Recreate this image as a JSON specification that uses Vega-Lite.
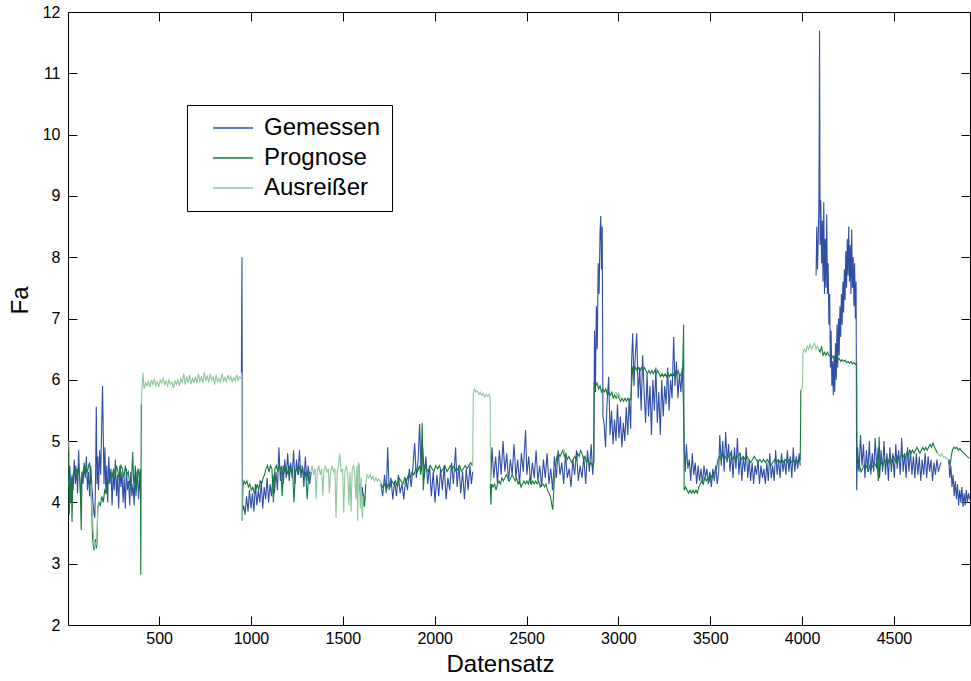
{
  "$schema": "https://vega.github.io/schema/vega-lite/v6.json",
  "width": 902,
  "height": 613,
  "autosize": {"type": "none"},
  "padding": {"left": 68, "top": 12, "right": 1, "bottom": 56},
  "background": "white",
  "datasets": {
    "gemessen": [
      {"n":8,"fa":4.25,"seg":1},{"n":14,"fa":4.6,"seg":1},{"n":20,"fa":4.1,"seg":1},{"n":26,"fa":4.45,"seg":1},{"n":32,"fa":4.2,"seg":1},{"n":38,"fa":4.7,"seg":1},{"n":44,"fa":4.3,"seg":1},{"n":50,"fa":4.55,"seg":1},{"n":56,"fa":4.15,"seg":1},{"n":62,"fa":4.85,"seg":1},{"n":68,"fa":4.35,"seg":1},{"n":74,"fa":4.05,"seg":1},{"n":80,"fa":4.5,"seg":1},{"n":86,"fa":4.3,"seg":1},{"n":92,"fa":4.65,"seg":1},{"n":98,"fa":4.4,"seg":1},{"n":104,"fa":4.75,"seg":1},{"n":110,"fa":4.2,"seg":1},{"n":116,"fa":4.5,"seg":1},{"n":122,"fa":4.1,"seg":1},{"n":128,"fa":4.6,"seg":1},{"n":134,"fa":4.25,"seg":1},{"n":140,"fa":4.0,"seg":1},{"n":146,"fa":3.8,"seg":1},{"n":150,"fa":3.75,"seg":1},{"n":154,"fa":4.4,"seg":1},{"n":158,"fa":5.56,"seg":1},{"n":162,"fa":4.3,"seg":1},{"n":166,"fa":4.75,"seg":1},{"n":170,"fa":4.2,"seg":1},{"n":176,"fa":4.85,"seg":1},{"n":182,"fa":4.45,"seg":1},{"n":188,"fa":5.35,"seg":1},{"n":192,"fa":5.9,"seg":1},{"n":196,"fa":5.1,"seg":1},{"n":200,"fa":4.3,"seg":1},{"n":205,"fa":4.9,"seg":1},{"n":210,"fa":4.15,"seg":1},{"n":215,"fa":4.6,"seg":1},{"n":220,"fa":4.0,"seg":1},{"n":226,"fa":4.75,"seg":1},{"n":232,"fa":4.3,"seg":1},{"n":238,"fa":4.55,"seg":1},{"n":244,"fa":3.95,"seg":1},{"n":250,"fa":4.5,"seg":1},{"n":256,"fa":4.2,"seg":1},{"n":262,"fa":4.7,"seg":1},{"n":268,"fa":4.1,"seg":1},{"n":274,"fa":4.45,"seg":1},{"n":280,"fa":3.9,"seg":1},{"n":286,"fa":4.6,"seg":1},{"n":292,"fa":4.25,"seg":1},{"n":298,"fa":4.5,"seg":1},{"n":304,"fa":4.0,"seg":1},{"n":310,"fa":4.4,"seg":1},{"n":316,"fa":3.9,"seg":1},{"n":322,"fa":4.55,"seg":1},{"n":328,"fa":4.2,"seg":1},{"n":334,"fa":4.35,"seg":1},{"n":340,"fa":3.95,"seg":1},{"n":346,"fa":4.5,"seg":1},{"n":352,"fa":4.1,"seg":1},{"n":358,"fa":4.3,"seg":1},{"n":364,"fa":3.95,"seg":1},{"n":370,"fa":4.6,"seg":1},{"n":376,"fa":4.2,"seg":1},{"n":382,"fa":4.5,"seg":1},{"n":388,"fa":4.05,"seg":1},{"n":394,"fa":4.4,"seg":1},{"n":400,"fa":4.1,"seg":1},
      {"n":948,"fa":6.1,"seg":2},{"n":951,"fa":8.0,"seg":2},{"n":954,"fa":3.85,"seg":2},{"n":960,"fa":3.95,"seg":2},{"n":968,"fa":3.8,"seg":2},{"n":976,"fa":4.1,"seg":2},{"n":984,"fa":3.85,"seg":2},{"n":992,"fa":4.2,"seg":2},{"n":1000,"fa":3.9,"seg":2},{"n":1008,"fa":4.15,"seg":2},{"n":1016,"fa":3.85,"seg":2},{"n":1024,"fa":4.3,"seg":2},{"n":1032,"fa":3.95,"seg":2},{"n":1040,"fa":4.2,"seg":2},{"n":1048,"fa":4.0,"seg":2},{"n":1056,"fa":4.35,"seg":2},{"n":1064,"fa":3.9,"seg":2},{"n":1072,"fa":4.25,"seg":2},{"n":1080,"fa":4.05,"seg":2},{"n":1088,"fa":4.4,"seg":2},{"n":1096,"fa":4.0,"seg":2},{"n":1104,"fa":4.3,"seg":2},{"n":1112,"fa":4.1,"seg":2},{"n":1120,"fa":4.45,"seg":2},{"n":1128,"fa":4.15,"seg":2},{"n":1136,"fa":4.5,"seg":2},{"n":1144,"fa":4.2,"seg":2},{"n":1152,"fa":4.9,"seg":2},{"n":1160,"fa":4.35,"seg":2},{"n":1168,"fa":4.6,"seg":2},{"n":1176,"fa":4.3,"seg":2},{"n":1184,"fa":4.7,"seg":2},{"n":1192,"fa":4.4,"seg":2},{"n":1200,"fa":4.8,"seg":2},{"n":1208,"fa":4.35,"seg":2},{"n":1216,"fa":4.65,"seg":2},{"n":1224,"fa":4.4,"seg":2},{"n":1232,"fa":4.85,"seg":2},{"n":1240,"fa":4.3,"seg":2},{"n":1248,"fa":4.7,"seg":2},{"n":1256,"fa":4.45,"seg":2},{"n":1264,"fa":4.85,"seg":2},{"n":1272,"fa":4.4,"seg":2},{"n":1280,"fa":4.6,"seg":2},{"n":1288,"fa":4.25,"seg":2},{"n":1296,"fa":4.75,"seg":2},{"n":1304,"fa":4.35,"seg":2},{"n":1312,"fa":4.6,"seg":2},{"n":1320,"fa":4.3,"seg":2},{"n":1328,"fa":4.5,"seg":2},
      {"n":1590,"fa":4.3,"seg":3},{"n":1598,"fa":4.05,"seg":3},{"n":1606,"fa":4.25,"seg":3},{"n":1614,"fa":3.95,"seg":3},{"n":1622,"fa":4.1,"seg":3},
      {"n":1707,"fa":4.3,"seg":4},{"n":1717,"fa":4.1,"seg":4},{"n":1727,"fa":4.45,"seg":4},{"n":1737,"fa":4.15,"seg":4},{"n":1744,"fa":4.9,"seg":4},{"n":1752,"fa":4.2,"seg":4},{"n":1762,"fa":4.4,"seg":4},{"n":1772,"fa":4.05,"seg":4},{"n":1782,"fa":4.35,"seg":4},{"n":1792,"fa":4.1,"seg":4},{"n":1802,"fa":4.45,"seg":4},{"n":1812,"fa":4.15,"seg":4},{"n":1822,"fa":4.3,"seg":4},{"n":1832,"fa":4.05,"seg":4},{"n":1842,"fa":4.4,"seg":4},{"n":1852,"fa":4.2,"seg":4},{"n":1862,"fa":4.55,"seg":4},{"n":1872,"fa":4.25,"seg":4},{"n":1882,"fa":4.6,"seg":4},{"n":1891,"fa":4.97,"seg":4},{"n":1900,"fa":4.4,"seg":4},{"n":1910,"fa":4.7,"seg":4},{"n":1918,"fa":5.28,"seg":4},{"n":1926,"fa":4.5,"seg":4},{"n":1935,"fa":4.9,"seg":4},{"n":1944,"fa":4.4,"seg":4},{"n":1952,"fa":4.75,"seg":4},{"n":1962,"fa":4.3,"seg":4},{"n":1972,"fa":4.6,"seg":4},{"n":1982,"fa":4.1,"seg":4},{"n":1992,"fa":4.5,"seg":4},{"n":2002,"fa":4.0,"seg":4},{"n":2012,"fa":4.45,"seg":4},{"n":2022,"fa":4.1,"seg":4},{"n":2032,"fa":4.55,"seg":4},{"n":2042,"fa":4.2,"seg":4},{"n":2052,"fa":4.6,"seg":4},{"n":2062,"fa":4.05,"seg":4},{"n":2072,"fa":4.4,"seg":4},{"n":2082,"fa":4.2,"seg":4},{"n":2092,"fa":4.65,"seg":4},{"n":2102,"fa":4.3,"seg":4},{"n":2114,"fa":4.9,"seg":4},{"n":2122,"fa":4.25,"seg":4},{"n":2132,"fa":4.6,"seg":4},{"n":2142,"fa":4.15,"seg":4},{"n":2152,"fa":4.5,"seg":4},{"n":2162,"fa":4.05,"seg":4},{"n":2172,"fa":4.55,"seg":4},{"n":2182,"fa":4.2,"seg":4},{"n":2192,"fa":4.6,"seg":4},{"n":2200,"fa":4.3,"seg":4},{"n":2207,"fa":4.5,"seg":4},
      {"n":2305,"fa":4.35,"seg":5},{"n":2312,"fa":4.9,"seg":5},{"n":2322,"fa":4.4,"seg":5},{"n":2332,"fa":4.75,"seg":5},{"n":2342,"fa":4.3,"seg":5},{"n":2352,"fa":4.85,"seg":5},{"n":2362,"fa":4.45,"seg":5},{"n":2372,"fa":5.0,"seg":5},{"n":2382,"fa":4.5,"seg":5},{"n":2392,"fa":4.8,"seg":5},{"n":2402,"fa":4.35,"seg":5},{"n":2412,"fa":4.7,"seg":5},{"n":2422,"fa":4.45,"seg":5},{"n":2432,"fa":4.95,"seg":5},{"n":2442,"fa":4.4,"seg":5},{"n":2452,"fa":4.7,"seg":5},{"n":2462,"fa":4.3,"seg":5},{"n":2472,"fa":4.8,"seg":5},{"n":2482,"fa":4.5,"seg":5},{"n":2495,"fa":5.18,"seg":5},{"n":2502,"fa":4.45,"seg":5},{"n":2512,"fa":4.75,"seg":5},{"n":2522,"fa":4.3,"seg":5},{"n":2532,"fa":4.65,"seg":5},{"n":2542,"fa":4.4,"seg":5},{"n":2552,"fa":4.85,"seg":5},{"n":2562,"fa":4.35,"seg":5},{"n":2572,"fa":4.6,"seg":5},{"n":2582,"fa":4.25,"seg":5},{"n":2592,"fa":4.7,"seg":5},{"n":2602,"fa":4.4,"seg":5},{"n":2612,"fa":4.8,"seg":5},{"n":2622,"fa":4.3,"seg":5},{"n":2632,"fa":4.55,"seg":5},{"n":2642,"fa":4.2,"seg":5},{"n":2652,"fa":4.75,"seg":5},{"n":2662,"fa":4.4,"seg":5},{"n":2672,"fa":4.85,"seg":5},{"n":2682,"fa":4.45,"seg":5},{"n":2692,"fa":4.65,"seg":5},{"n":2702,"fa":4.3,"seg":5},{"n":2712,"fa":4.8,"seg":5},{"n":2722,"fa":4.4,"seg":5},{"n":2732,"fa":4.55,"seg":5},{"n":2742,"fa":4.25,"seg":5},{"n":2752,"fa":4.7,"seg":5},{"n":2762,"fa":4.45,"seg":5},{"n":2772,"fa":4.85,"seg":5},{"n":2782,"fa":4.35,"seg":5},{"n":2792,"fa":4.6,"seg":5},{"n":2802,"fa":4.4,"seg":5},{"n":2812,"fa":4.75,"seg":5},{"n":2822,"fa":4.3,"seg":5},{"n":2832,"fa":4.85,"seg":5},{"n":2842,"fa":4.5,"seg":5},{"n":2852,"fa":4.95,"seg":5},{"n":2860,"fa":4.45,"seg":5},{"n":2866,"fa":4.7,"seg":5},
      {"n":2870,"fa":6.8,"seg":5},{"n":2875,"fa":5.8,"seg":5},{"n":2880,"fa":7.2,"seg":5},{"n":2885,"fa":6.5,"seg":5},{"n":2890,"fa":7.9,"seg":5},{"n":2895,"fa":7.4,"seg":5},{"n":2900,"fa":8.4,"seg":5},{"n":2904,"fa":8.67,"seg":5},{"n":2908,"fa":7.8,"seg":5},{"n":2912,"fa":8.5,"seg":5},{"n":2916,"fa":5.4,"seg":5},{"n":2922,"fa":5.3,"seg":5},{"n":2930,"fa":4.9,"seg":5},{"n":2938,"fa":5.6,"seg":5},{"n":2947,"fa":6.05,"seg":5},{"n":2955,"fa":5.1,"seg":5},{"n":2963,"fa":5.5,"seg":5},{"n":2971,"fa":4.95,"seg":5},{"n":2979,"fa":5.35,"seg":5},{"n":2987,"fa":5.0,"seg":5},{"n":2995,"fa":5.6,"seg":5},{"n":3003,"fa":5.05,"seg":5},{"n":3011,"fa":5.4,"seg":5},{"n":3019,"fa":4.9,"seg":5},{"n":3027,"fa":5.3,"seg":5},{"n":3035,"fa":5.0,"seg":5},{"n":3043,"fa":5.55,"seg":5},{"n":3051,"fa":5.1,"seg":5},{"n":3059,"fa":5.7,"seg":5},{"n":3067,"fa":5.2,"seg":5},
      {"n":3072,"fa":6.3,"seg":5},{"n":3078,"fa":6.76,"seg":5},{"n":3085,"fa":5.9,"seg":5},{"n":3092,"fa":6.4,"seg":5},{"n":3100,"fa":6.76,"seg":5},{"n":3108,"fa":5.7,"seg":5},{"n":3116,"fa":6.2,"seg":5},{"n":3124,"fa":5.5,"seg":5},{"n":3132,"fa":6.4,"seg":5},{"n":3140,"fa":5.8,"seg":5},{"n":3148,"fa":5.3,"seg":5},{"n":3156,"fa":6.1,"seg":5},{"n":3164,"fa":5.4,"seg":5},{"n":3172,"fa":5.9,"seg":5},{"n":3180,"fa":5.1,"seg":5},{"n":3188,"fa":6.0,"seg":5},{"n":3196,"fa":5.5,"seg":5},{"n":3204,"fa":6.2,"seg":5},{"n":3212,"fa":5.3,"seg":5},{"n":3220,"fa":5.8,"seg":5},{"n":3228,"fa":5.1,"seg":5},{"n":3236,"fa":6.0,"seg":5},{"n":3244,"fa":5.4,"seg":5},{"n":3252,"fa":5.9,"seg":5},{"n":3260,"fa":5.6,"seg":5},{"n":3268,"fa":6.2,"seg":5},{"n":3276,"fa":5.5,"seg":5},{"n":3284,"fa":6.0,"seg":5},{"n":3292,"fa":5.7,"seg":5},{"n":3301,"fa":6.7,"seg":5},{"n":3308,"fa":5.9,"seg":5},{"n":3316,"fa":6.3,"seg":5},{"n":3324,"fa":5.7,"seg":5},{"n":3332,"fa":6.1,"seg":5},{"n":3340,"fa":5.8,"seg":5},{"n":3348,"fa":6.2,"seg":5},{"n":3354,"fa":5.6,"seg":5},
      {"n":3358,"fa":4.9,"seg":5},{"n":3364,"fa":4.5,"seg":5},{"n":3370,"fa":4.95,"seg":5},{"n":3378,"fa":4.55,"seg":5},{"n":3386,"fa":4.7,"seg":5},{"n":3394,"fa":4.35,"seg":5},{"n":3402,"fa":4.8,"seg":5},{"n":3410,"fa":4.45,"seg":5},{"n":3418,"fa":4.65,"seg":5},{"n":3426,"fa":4.3,"seg":5},{"n":3434,"fa":4.6,"seg":5},{"n":3442,"fa":4.35,"seg":5},{"n":3450,"fa":4.55,"seg":5},{"n":3458,"fa":4.3,"seg":5},{"n":3466,"fa":4.6,"seg":5},{"n":3474,"fa":4.4,"seg":5},{"n":3482,"fa":4.55,"seg":5},{"n":3490,"fa":4.3,"seg":5},{"n":3498,"fa":4.5,"seg":5},{"n":3506,"fa":4.25,"seg":5},{"n":3514,"fa":4.55,"seg":5},{"n":3522,"fa":4.35,"seg":5},{"n":3530,"fa":4.6,"seg":5},{"n":3538,"fa":4.3,"seg":5},{"n":3546,"fa":4.5,"seg":5},
      {"n":3552,"fa":5.1,"seg":5},{"n":3560,"fa":4.6,"seg":5},{"n":3568,"fa":5.0,"seg":5},{"n":3576,"fa":4.5,"seg":5},{"n":3584,"fa":5.15,"seg":5},{"n":3592,"fa":4.65,"seg":5},{"n":3600,"fa":4.95,"seg":5},{"n":3608,"fa":4.5,"seg":5},{"n":3616,"fa":4.85,"seg":5},{"n":3624,"fa":4.4,"seg":5},{"n":3632,"fa":4.9,"seg":5},{"n":3640,"fa":4.55,"seg":5},{"n":3648,"fa":5.05,"seg":5},{"n":3656,"fa":4.45,"seg":5},{"n":3664,"fa":4.8,"seg":5},{"n":3672,"fa":4.35,"seg":5},{"n":3680,"fa":4.75,"seg":5},{"n":3688,"fa":4.5,"seg":5},{"n":3696,"fa":4.9,"seg":5},{"n":3704,"fa":4.4,"seg":5},{"n":3712,"fa":4.7,"seg":5},{"n":3720,"fa":4.35,"seg":5},{"n":3728,"fa":4.65,"seg":5},{"n":3736,"fa":4.3,"seg":5},{"n":3744,"fa":4.6,"seg":5},{"n":3752,"fa":4.45,"seg":5},{"n":3760,"fa":4.7,"seg":5},{"n":3768,"fa":4.3,"seg":5},{"n":3776,"fa":4.6,"seg":5},{"n":3784,"fa":4.4,"seg":5},{"n":3792,"fa":4.55,"seg":5},{"n":3800,"fa":4.3,"seg":5},{"n":3808,"fa":4.65,"seg":5},{"n":3816,"fa":4.35,"seg":5},{"n":3824,"fa":4.8,"seg":5},{"n":3832,"fa":4.4,"seg":5},{"n":3840,"fa":4.6,"seg":5},{"n":3848,"fa":4.35,"seg":5},{"n":3856,"fa":4.85,"seg":5},{"n":3864,"fa":4.45,"seg":5},{"n":3872,"fa":4.7,"seg":5},{"n":3880,"fa":4.4,"seg":5},{"n":3888,"fa":4.8,"seg":5},{"n":3896,"fa":4.5,"seg":5},{"n":3904,"fa":4.7,"seg":5},{"n":3912,"fa":4.45,"seg":5},{"n":3920,"fa":4.85,"seg":5},{"n":3928,"fa":4.5,"seg":5},{"n":3936,"fa":4.75,"seg":5},{"n":3944,"fa":4.4,"seg":5},{"n":3952,"fa":4.9,"seg":5},{"n":3960,"fa":4.5,"seg":5},{"n":3968,"fa":4.75,"seg":5},{"n":3976,"fa":4.55,"seg":5},{"n":3984,"fa":4.8,"seg":5},{"n":3990,"fa":4.6,"seg":5},
      {"n":4076,"fa":7.7,"seg":6},{"n":4080,"fa":8.5,"seg":6},{"n":4084,"fa":7.8,"seg":6},{"n":4088,"fa":8.3,"seg":6},{"n":4092,"fa":9.0,"seg":6},{"n":4095,"fa":11.7,"seg":6},{"n":4098,"fa":8.2,"seg":6},{"n":4102,"fa":8.93,"seg":6},{"n":4106,"fa":7.9,"seg":6},{"n":4110,"fa":8.6,"seg":6},{"n":4114,"fa":7.6,"seg":6},{"n":4118,"fa":8.9,"seg":6},{"n":4122,"fa":7.4,"seg":6},{"n":4126,"fa":8.3,"seg":6},{"n":4130,"fa":7.5,"seg":6},{"n":4134,"fa":8.7,"seg":6},{"n":4138,"fa":7.4,"seg":6},{"n":4142,"fa":7.9,"seg":6},{"n":4146,"fa":6.9,"seg":6},{"n":4150,"fa":7.4,"seg":6},{"n":4154,"fa":6.2,"seg":6},{"n":4158,"fa":6.8,"seg":6},{"n":4162,"fa":5.9,"seg":6},{"n":4166,"fa":6.3,"seg":6},{"n":4170,"fa":5.75,"seg":6},{"n":4174,"fa":6.4,"seg":6},{"n":4178,"fa":5.8,"seg":6},{"n":4182,"fa":6.6,"seg":6},{"n":4186,"fa":6.0,"seg":6},{"n":4190,"fa":6.9,"seg":6},{"n":4194,"fa":6.2,"seg":6},{"n":4198,"fa":7.0,"seg":6},{"n":4202,"fa":6.4,"seg":6},{"n":4206,"fa":7.2,"seg":6},{"n":4210,"fa":6.7,"seg":6},{"n":4214,"fa":7.4,"seg":6},{"n":4218,"fa":6.9,"seg":6},{"n":4222,"fa":7.6,"seg":6},{"n":4226,"fa":7.1,"seg":6},{"n":4230,"fa":7.8,"seg":6},{"n":4234,"fa":7.3,"seg":6},{"n":4238,"fa":8.1,"seg":6},{"n":4242,"fa":7.5,"seg":6},{"n":4246,"fa":8.3,"seg":6},{"n":4250,"fa":7.7,"seg":6},{"n":4254,"fa":8.5,"seg":6},{"n":4258,"fa":7.6,"seg":6},{"n":4262,"fa":8.2,"seg":6},{"n":4266,"fa":7.4,"seg":6},{"n":4270,"fa":8.45,"seg":6},{"n":4274,"fa":7.5,"seg":6},{"n":4278,"fa":8.0,"seg":6},{"n":4282,"fa":7.2,"seg":6},{"n":4286,"fa":7.9,"seg":6},{"n":4290,"fa":7.0,"seg":6},{"n":4294,"fa":7.6,"seg":6},{"n":4297,"fa":4.2,"seg":6},
      {"n":4302,"fa":4.9,"seg":6},{"n":4310,"fa":4.5,"seg":6},{"n":4318,"fa":5.1,"seg":6},{"n":4326,"fa":4.6,"seg":6},{"n":4334,"fa":4.95,"seg":6},{"n":4342,"fa":4.4,"seg":6},{"n":4350,"fa":4.85,"seg":6},{"n":4358,"fa":4.5,"seg":6},{"n":4366,"fa":5.0,"seg":6},{"n":4374,"fa":4.45,"seg":6},{"n":4382,"fa":4.8,"seg":6},{"n":4390,"fa":4.5,"seg":6},{"n":4398,"fa":5.05,"seg":6},{"n":4406,"fa":4.55,"seg":6},{"n":4414,"fa":4.9,"seg":6},{"n":4422,"fa":4.4,"seg":6},{"n":4430,"fa":4.85,"seg":6},{"n":4438,"fa":4.5,"seg":6},{"n":4446,"fa":5.0,"seg":6},{"n":4454,"fa":4.45,"seg":6},{"n":4462,"fa":4.8,"seg":6},{"n":4470,"fa":4.35,"seg":6},{"n":4478,"fa":4.9,"seg":6},{"n":4486,"fa":4.5,"seg":6},{"n":4494,"fa":4.8,"seg":6},{"n":4502,"fa":4.4,"seg":6},{"n":4510,"fa":4.95,"seg":6},{"n":4518,"fa":4.55,"seg":6},{"n":4526,"fa":4.85,"seg":6},{"n":4534,"fa":4.45,"seg":6},{"n":4542,"fa":5.05,"seg":6},{"n":4550,"fa":4.5,"seg":6},{"n":4558,"fa":4.8,"seg":6},{"n":4566,"fa":4.4,"seg":6},{"n":4574,"fa":4.9,"seg":6},{"n":4582,"fa":4.5,"seg":6},{"n":4590,"fa":4.85,"seg":6},{"n":4598,"fa":4.45,"seg":6},{"n":4606,"fa":4.75,"seg":6},{"n":4614,"fa":4.4,"seg":6},{"n":4622,"fa":4.8,"seg":6},{"n":4630,"fa":4.45,"seg":6},{"n":4638,"fa":4.75,"seg":6},{"n":4646,"fa":4.35,"seg":6},{"n":4654,"fa":4.7,"seg":6},{"n":4662,"fa":4.45,"seg":6},{"n":4670,"fa":4.8,"seg":6},{"n":4678,"fa":4.4,"seg":6},{"n":4686,"fa":4.75,"seg":6},{"n":4694,"fa":4.5,"seg":6},{"n":4702,"fa":4.7,"seg":6},{"n":4710,"fa":4.35,"seg":6},{"n":4718,"fa":4.65,"seg":6},{"n":4726,"fa":4.45,"seg":6},{"n":4734,"fa":4.7,"seg":6},{"n":4742,"fa":4.5,"seg":6},{"n":4750,"fa":4.6,"seg":6},{"n":4756,"fa":4.65,"seg":6},
      {"n":4798,"fa":4.7,"seg":7},{"n":4804,"fa":4.4,"seg":7},{"n":4810,"fa":4.6,"seg":7},{"n":4816,"fa":4.25,"seg":7},{"n":4822,"fa":4.45,"seg":7},{"n":4828,"fa":4.1,"seg":7},{"n":4834,"fa":4.35,"seg":7},{"n":4840,"fa":4.05,"seg":7},{"n":4846,"fa":4.3,"seg":7},{"n":4852,"fa":3.95,"seg":7},{"n":4858,"fa":4.2,"seg":7},{"n":4864,"fa":4.0,"seg":7},{"n":4870,"fa":4.25,"seg":7},{"n":4876,"fa":3.92,"seg":7},{"n":4882,"fa":4.15,"seg":7},{"n":4888,"fa":3.95,"seg":7},{"n":4894,"fa":4.2,"seg":7},{"n":4900,"fa":4.0,"seg":7},{"n":4906,"fa":4.15,"seg":7},{"n":4912,"fa":4.05,"seg":7}
    ],
    "prognose": [
      {"n":8,"fa":4.75,"seg":1},{"n":11,"fa":3.8,"seg":1},{"n":14,"fa":4.3,"seg":1},{"n":18,"fa":4.0,"seg":1},{"n":22,"fa":4.4,"seg":1},{"n":26,"fa":3.68,"seg":1},{"n":30,"fa":4.3,"seg":1},{"n":34,"fa":4.5,"seg":1},{"n":40,"fa":4.45,"seg":1},{"n":46,"fa":4.6,"seg":1},{"n":52,"fa":4.4,"seg":1},{"n":58,"fa":4.55,"seg":1},{"n":64,"fa":4.5,"seg":1},{"n":70,"fa":4.35,"seg":1},{"n":76,"fa":3.55,"seg":1},{"n":80,"fa":4.4,"seg":1},{"n":86,"fa":4.5,"seg":1},{"n":92,"fa":4.6,"seg":1},{"n":98,"fa":4.45,"seg":1},{"n":104,"fa":4.55,"seg":1},{"n":110,"fa":4.5,"seg":1},{"n":116,"fa":4.6,"seg":1},{"n":122,"fa":4.65,"seg":1},{"n":128,"fa":4.3,"seg":1},{"n":134,"fa":3.8,"seg":1},{"n":138,"fa":3.4,"seg":1},{"n":142,"fa":3.3,"seg":1},{"n":146,"fa":3.22,"seg":1},{"n":150,"fa":3.3,"seg":1},{"n":154,"fa":3.4,"seg":1},{"n":158,"fa":3.25,"seg":1},{"n":162,"fa":3.35,"seg":1},{"n":166,"fa":3.9,"seg":1},{"n":172,"fa":4.0,"seg":1},{"n":180,"fa":3.95,"seg":1},{"n":188,"fa":4.1,"seg":1},{"n":196,"fa":4.0,"seg":1},{"n":204,"fa":4.2,"seg":1},{"n":212,"fa":4.15,"seg":1},{"n":220,"fa":4.3,"seg":1},{"n":228,"fa":4.35,"seg":1},{"n":236,"fa":4.5,"seg":1},{"n":244,"fa":4.4,"seg":1},{"n":252,"fa":4.55,"seg":1},{"n":260,"fa":4.45,"seg":1},{"n":268,"fa":4.6,"seg":1},{"n":276,"fa":4.5,"seg":1},{"n":284,"fa":4.35,"seg":1},{"n":292,"fa":4.6,"seg":1},{"n":300,"fa":4.55,"seg":1},{"n":308,"fa":4.4,"seg":1},{"n":316,"fa":4.6,"seg":1},{"n":324,"fa":4.45,"seg":1},{"n":332,"fa":4.5,"seg":1},{"n":340,"fa":4.3,"seg":1},{"n":348,"fa":4.2,"seg":1},{"n":356,"fa":4.82,"seg":1},{"n":362,"fa":4.3,"seg":1},{"n":368,"fa":4.45,"seg":1},{"n":374,"fa":4.1,"seg":1},{"n":380,"fa":4.5,"seg":1},{"n":386,"fa":4.55,"seg":1},{"n":392,"fa":4.4,"seg":1},{"n":398,"fa":4.55,"seg":1},{"n":400,"fa":2.82,"seg":1},{"n":403,"fa":5.6,"seg":1},
      {"n":952,"fa":3.7,"seg":2},{"n":956,"fa":4.25,"seg":2},{"n":962,"fa":4.35,"seg":2},{"n":970,"fa":4.3,"seg":2},{"n":978,"fa":4.35,"seg":2},{"n":986,"fa":4.25,"seg":2},{"n":994,"fa":4.3,"seg":2},{"n":1002,"fa":4.2,"seg":2},{"n":1010,"fa":4.25,"seg":2},{"n":1018,"fa":4.15,"seg":2},{"n":1026,"fa":4.2,"seg":2},{"n":1034,"fa":4.3,"seg":2},{"n":1042,"fa":4.2,"seg":2},{"n":1050,"fa":4.35,"seg":2},{"n":1058,"fa":4.3,"seg":2},{"n":1066,"fa":4.4,"seg":2},{"n":1074,"fa":4.45,"seg":2},{"n":1082,"fa":4.55,"seg":2},{"n":1090,"fa":4.6,"seg":2},{"n":1098,"fa":4.5,"seg":2},{"n":1106,"fa":4.6,"seg":2},{"n":1114,"fa":4.55,"seg":2},{"n":1122,"fa":4.0,"seg":2},{"n":1130,"fa":4.55,"seg":2},{"n":1138,"fa":4.6,"seg":2},{"n":1146,"fa":4.5,"seg":2},{"n":1154,"fa":4.6,"seg":2},{"n":1162,"fa":4.55,"seg":2},{"n":1170,"fa":4.1,"seg":2},{"n":1178,"fa":4.6,"seg":2},{"n":1186,"fa":4.5,"seg":2},{"n":1194,"fa":4.55,"seg":2},{"n":1202,"fa":4.45,"seg":2},{"n":1210,"fa":4.6,"seg":2},{"n":1218,"fa":4.5,"seg":2},{"n":1226,"fa":4.55,"seg":2},{"n":1234,"fa":4.0,"seg":2},{"n":1242,"fa":4.5,"seg":2},{"n":1250,"fa":4.55,"seg":2},{"n":1258,"fa":4.45,"seg":2},{"n":1266,"fa":4.6,"seg":2},{"n":1274,"fa":4.5,"seg":2},{"n":1282,"fa":4.55,"seg":2},{"n":1290,"fa":4.4,"seg":2},{"n":1298,"fa":4.5,"seg":2},{"n":1306,"fa":4.05,"seg":2},{"n":1314,"fa":4.45,"seg":2},{"n":1322,"fa":4.5,"seg":2},
      {"n":1612,"fa":4.15,"seg":3},{"n":1618,"fa":3.93,"seg":3},{"n":1625,"fa":4.3,"seg":3},
      {"n":1707,"fa":4.3,"seg":4},{"n":1717,"fa":4.25,"seg":4},{"n":1727,"fa":4.3,"seg":4},{"n":1737,"fa":4.2,"seg":4},{"n":1747,"fa":4.3,"seg":4},{"n":1757,"fa":4.25,"seg":4},{"n":1767,"fa":4.35,"seg":4},{"n":1777,"fa":4.3,"seg":4},{"n":1787,"fa":4.35,"seg":4},{"n":1797,"fa":4.25,"seg":4},{"n":1807,"fa":4.4,"seg":4},{"n":1817,"fa":4.35,"seg":4},{"n":1827,"fa":4.3,"seg":4},{"n":1837,"fa":4.4,"seg":4},{"n":1847,"fa":4.35,"seg":4},{"n":1857,"fa":4.45,"seg":4},{"n":1867,"fa":4.4,"seg":4},{"n":1877,"fa":4.5,"seg":4},{"n":1887,"fa":4.45,"seg":4},{"n":1897,"fa":4.55,"seg":4},{"n":1907,"fa":4.5,"seg":4},{"n":1917,"fa":4.6,"seg":4},{"n":1925,"fa":4.45,"seg":4},{"n":1932,"fa":5.3,"seg":4},{"n":1938,"fa":4.2,"seg":4},{"n":1946,"fa":4.6,"seg":4},{"n":1956,"fa":4.55,"seg":4},{"n":1966,"fa":4.5,"seg":4},{"n":1976,"fa":4.6,"seg":4},{"n":1986,"fa":4.55,"seg":4},{"n":1996,"fa":4.5,"seg":4},{"n":2006,"fa":4.6,"seg":4},{"n":2016,"fa":4.55,"seg":4},{"n":2026,"fa":4.6,"seg":4},{"n":2036,"fa":4.5,"seg":4},{"n":2046,"fa":4.55,"seg":4},{"n":2056,"fa":4.6,"seg":4},{"n":2066,"fa":4.5,"seg":4},{"n":2076,"fa":4.55,"seg":4},{"n":2086,"fa":4.6,"seg":4},{"n":2096,"fa":4.55,"seg":4},{"n":2106,"fa":4.6,"seg":4},{"n":2116,"fa":4.5,"seg":4},{"n":2126,"fa":4.55,"seg":4},{"n":2136,"fa":4.6,"seg":4},{"n":2146,"fa":4.5,"seg":4},{"n":2156,"fa":4.55,"seg":4},{"n":2166,"fa":4.6,"seg":4},{"n":2176,"fa":4.55,"seg":4},{"n":2186,"fa":4.6,"seg":4},{"n":2196,"fa":4.65,"seg":4},{"n":2205,"fa":4.6,"seg":4},
      {"n":2303,"fa":4.3,"seg":5},{"n":2306,"fa":3.96,"seg":5},{"n":2310,"fa":4.3,"seg":5},{"n":2318,"fa":4.25,"seg":5},{"n":2326,"fa":4.3,"seg":5},{"n":2334,"fa":4.2,"seg":5},{"n":2342,"fa":4.3,"seg":5},{"n":2350,"fa":4.35,"seg":5},{"n":2358,"fa":4.3,"seg":5},{"n":2366,"fa":4.4,"seg":5},{"n":2374,"fa":4.35,"seg":5},{"n":2382,"fa":4.4,"seg":5},{"n":2390,"fa":4.45,"seg":5},{"n":2398,"fa":4.4,"seg":5},{"n":2406,"fa":4.35,"seg":5},{"n":2414,"fa":4.4,"seg":5},{"n":2422,"fa":4.45,"seg":5},{"n":2430,"fa":4.4,"seg":5},{"n":2438,"fa":4.35,"seg":5},{"n":2446,"fa":4.4,"seg":5},{"n":2454,"fa":4.3,"seg":5},{"n":2462,"fa":4.35,"seg":5},{"n":2470,"fa":4.25,"seg":5},{"n":2478,"fa":4.3,"seg":5},{"n":2486,"fa":4.35,"seg":5},{"n":2494,"fa":4.3,"seg":5},{"n":2502,"fa":4.35,"seg":5},{"n":2510,"fa":4.3,"seg":5},{"n":2518,"fa":4.4,"seg":5},{"n":2526,"fa":4.3,"seg":5},{"n":2534,"fa":4.35,"seg":5},{"n":2542,"fa":4.3,"seg":5},{"n":2550,"fa":4.35,"seg":5},{"n":2558,"fa":4.3,"seg":5},{"n":2566,"fa":4.35,"seg":5},{"n":2574,"fa":4.25,"seg":5},{"n":2582,"fa":4.3,"seg":5},{"n":2590,"fa":4.3,"seg":5},{"n":2598,"fa":4.25,"seg":5},{"n":2606,"fa":4.3,"seg":5},{"n":2614,"fa":4.2,"seg":5},{"n":2622,"fa":4.15,"seg":5},{"n":2630,"fa":4.1,"seg":5},{"n":2638,"fa":3.95,"seg":5},{"n":2643,"fa":3.88,"seg":5},{"n":2650,"fa":4.3,"seg":5},{"n":2658,"fa":4.6,"seg":5},{"n":2666,"fa":4.75,"seg":5},{"n":2674,"fa":4.8,"seg":5},{"n":2682,"fa":4.75,"seg":5},{"n":2690,"fa":4.8,"seg":5},{"n":2698,"fa":4.85,"seg":5},{"n":2706,"fa":4.75,"seg":5},{"n":2714,"fa":4.8,"seg":5},{"n":2722,"fa":4.7,"seg":5},{"n":2730,"fa":4.75,"seg":5},{"n":2738,"fa":4.7,"seg":5},{"n":2746,"fa":4.65,"seg":5},{"n":2754,"fa":4.7,"seg":5},{"n":2762,"fa":4.75,"seg":5},{"n":2770,"fa":4.7,"seg":5},{"n":2778,"fa":4.8,"seg":5},{"n":2786,"fa":4.75,"seg":5},{"n":2794,"fa":4.85,"seg":5},{"n":2802,"fa":4.8,"seg":5},{"n":2810,"fa":4.7,"seg":5},{"n":2818,"fa":4.75,"seg":5},{"n":2826,"fa":4.65,"seg":5},{"n":2834,"fa":4.7,"seg":5},{"n":2842,"fa":4.6,"seg":5},{"n":2850,"fa":4.65,"seg":5},{"n":2858,"fa":4.6,"seg":5},{"n":2866,"fa":4.65,"seg":5},
      {"n":2868,"fa":5.95,"seg":5},{"n":2876,"fa":5.9,"seg":5},{"n":2884,"fa":5.95,"seg":5},{"n":2892,"fa":5.85,"seg":5},{"n":2900,"fa":5.9,"seg":5},{"n":2908,"fa":5.8,"seg":5},{"n":2916,"fa":5.85,"seg":5},{"n":2924,"fa":5.8,"seg":5},{"n":2932,"fa":5.85,"seg":5},{"n":2940,"fa":5.75,"seg":5},{"n":2948,"fa":5.8,"seg":5},{"n":2956,"fa":5.75,"seg":5},{"n":2964,"fa":5.8,"seg":5},{"n":2972,"fa":5.7,"seg":5},{"n":2980,"fa":5.75,"seg":5},{"n":2988,"fa":5.7,"seg":5},{"n":2996,"fa":5.75,"seg":5},{"n":3004,"fa":5.7,"seg":5},{"n":3012,"fa":5.65,"seg":5},{"n":3020,"fa":5.7,"seg":5},{"n":3028,"fa":5.65,"seg":5},{"n":3036,"fa":5.7,"seg":5},{"n":3044,"fa":5.65,"seg":5},{"n":3052,"fa":5.7,"seg":5},{"n":3060,"fa":5.65,"seg":5},{"n":3068,"fa":5.7,"seg":5},{"n":3078,"fa":6.2,"seg":5},{"n":3086,"fa":6.15,"seg":5},{"n":3094,"fa":6.2,"seg":5},{"n":3102,"fa":6.15,"seg":5},{"n":3110,"fa":6.2,"seg":5},{"n":3118,"fa":6.15,"seg":5},{"n":3126,"fa":6.2,"seg":5},{"n":3134,"fa":6.15,"seg":5},{"n":3142,"fa":6.2,"seg":5},{"n":3150,"fa":6.15,"seg":5},{"n":3158,"fa":6.1,"seg":5},{"n":3166,"fa":6.15,"seg":5},{"n":3174,"fa":6.1,"seg":5},{"n":3182,"fa":6.15,"seg":5},{"n":3190,"fa":6.1,"seg":5},{"n":3198,"fa":6.15,"seg":5},{"n":3206,"fa":6.1,"seg":5},{"n":3214,"fa":6.15,"seg":5},{"n":3222,"fa":6.1,"seg":5},{"n":3230,"fa":6.05,"seg":5},{"n":3238,"fa":6.1,"seg":5},{"n":3246,"fa":6.05,"seg":5},{"n":3254,"fa":6.1,"seg":5},{"n":3262,"fa":6.05,"seg":5},{"n":3270,"fa":6.1,"seg":5},{"n":3278,"fa":6.05,"seg":5},{"n":3286,"fa":6.1,"seg":5},{"n":3294,"fa":6.05,"seg":5},{"n":3302,"fa":6.1,"seg":5},{"n":3310,"fa":6.05,"seg":5},{"n":3318,"fa":6.1,"seg":5},{"n":3326,"fa":6.15,"seg":5},{"n":3334,"fa":6.05,"seg":5},{"n":3342,"fa":6.1,"seg":5},{"n":3350,"fa":6.15,"seg":5},{"n":3355,"fa":6.9,"seg":5},{"n":3358,"fa":4.2,"seg":5},
      {"n":3366,"fa":4.25,"seg":5},{"n":3374,"fa":4.2,"seg":5},{"n":3382,"fa":4.15,"seg":5},{"n":3390,"fa":4.2,"seg":5},{"n":3398,"fa":4.15,"seg":5},{"n":3406,"fa":4.2,"seg":5},{"n":3414,"fa":4.15,"seg":5},{"n":3422,"fa":4.2,"seg":5},{"n":3430,"fa":4.15,"seg":5},{"n":3438,"fa":4.25,"seg":5},{"n":3446,"fa":4.3,"seg":5},{"n":3454,"fa":4.35,"seg":5},{"n":3462,"fa":4.3,"seg":5},{"n":3470,"fa":4.4,"seg":5},{"n":3478,"fa":4.35,"seg":5},{"n":3486,"fa":4.4,"seg":5},{"n":3494,"fa":4.35,"seg":5},{"n":3502,"fa":4.45,"seg":5},{"n":3510,"fa":4.4,"seg":5},{"n":3518,"fa":4.45,"seg":5},{"n":3526,"fa":4.5,"seg":5},{"n":3534,"fa":4.55,"seg":5},{"n":3542,"fa":4.7,"seg":5},{"n":3550,"fa":4.75,"seg":5},{"n":3560,"fa":4.7,"seg":5},{"n":3570,"fa":4.8,"seg":5},{"n":3580,"fa":4.75,"seg":5},{"n":3590,"fa":4.7,"seg":5},{"n":3600,"fa":4.75,"seg":5},{"n":3610,"fa":4.8,"seg":5},{"n":3620,"fa":4.7,"seg":5},{"n":3630,"fa":4.75,"seg":5},{"n":3640,"fa":4.7,"seg":5},{"n":3650,"fa":4.75,"seg":5},{"n":3660,"fa":4.8,"seg":5},{"n":3670,"fa":4.7,"seg":5},{"n":3680,"fa":4.75,"seg":5},{"n":3690,"fa":4.7,"seg":5},{"n":3700,"fa":4.75,"seg":5},{"n":3710,"fa":4.7,"seg":5},{"n":3720,"fa":4.65,"seg":5},{"n":3730,"fa":4.7,"seg":5},{"n":3740,"fa":4.75,"seg":5},{"n":3750,"fa":4.7,"seg":5},{"n":3760,"fa":4.65,"seg":5},{"n":3770,"fa":4.7,"seg":5},{"n":3780,"fa":4.65,"seg":5},{"n":3790,"fa":4.7,"seg":5},{"n":3800,"fa":4.65,"seg":5},{"n":3810,"fa":4.7,"seg":5},{"n":3820,"fa":4.65,"seg":5},{"n":3830,"fa":4.6,"seg":5},{"n":3840,"fa":4.65,"seg":5},{"n":3850,"fa":4.7,"seg":5},{"n":3860,"fa":4.65,"seg":5},{"n":3870,"fa":4.7,"seg":5},{"n":3880,"fa":4.65,"seg":5},{"n":3890,"fa":4.7,"seg":5},{"n":3900,"fa":4.65,"seg":5},{"n":3910,"fa":4.7,"seg":5},{"n":3920,"fa":4.65,"seg":5},{"n":3930,"fa":4.7,"seg":5},{"n":3940,"fa":4.65,"seg":5},{"n":3950,"fa":4.7,"seg":5},{"n":3960,"fa":4.65,"seg":5},{"n":3970,"fa":4.7,"seg":5},{"n":3980,"fa":4.65,"seg":5},{"n":3990,"fa":4.7,"seg":5},{"n":3993,"fa":5.83,"seg":5},
      {"n":4090,"fa":6.5,"seg":6},{"n":4098,"fa":6.45,"seg":6},{"n":4106,"fa":6.55,"seg":6},{"n":4114,"fa":6.4,"seg":6},{"n":4122,"fa":6.45,"seg":6},{"n":4130,"fa":6.4,"seg":6},{"n":4138,"fa":6.45,"seg":6},{"n":4146,"fa":6.4,"seg":6},{"n":4154,"fa":6.38,"seg":6},{"n":4162,"fa":6.4,"seg":6},{"n":4170,"fa":6.35,"seg":6},{"n":4178,"fa":6.38,"seg":6},{"n":4186,"fa":6.35,"seg":6},{"n":4194,"fa":6.33,"seg":6},{"n":4202,"fa":6.35,"seg":6},{"n":4210,"fa":6.3,"seg":6},{"n":4218,"fa":6.33,"seg":6},{"n":4226,"fa":6.3,"seg":6},{"n":4234,"fa":6.32,"seg":6},{"n":4242,"fa":6.28,"seg":6},{"n":4250,"fa":6.3,"seg":6},{"n":4258,"fa":6.27,"seg":6},{"n":4266,"fa":6.3,"seg":6},{"n":4274,"fa":6.26,"seg":6},{"n":4282,"fa":6.28,"seg":6},{"n":4290,"fa":6.25,"seg":6},{"n":4297,"fa":6.27,"seg":6},{"n":4299,"fa":4.6,"seg":6},
      {"n":4305,"fa":4.55,"seg":6},{"n":4313,"fa":4.6,"seg":6},{"n":4321,"fa":4.5,"seg":6},{"n":4329,"fa":4.55,"seg":6},{"n":4337,"fa":4.6,"seg":6},{"n":4345,"fa":4.55,"seg":6},{"n":4353,"fa":4.6,"seg":6},{"n":4361,"fa":4.5,"seg":6},{"n":4369,"fa":4.6,"seg":6},{"n":4377,"fa":4.55,"seg":6},{"n":4385,"fa":4.6,"seg":6},{"n":4393,"fa":4.65,"seg":6},{"n":4401,"fa":4.6,"seg":6},{"n":4409,"fa":4.65,"seg":6},{"n":4415,"fa":4.35,"seg":6},{"n":4419,"fa":5.07,"seg":6},{"n":4425,"fa":4.6,"seg":6},{"n":4433,"fa":4.65,"seg":6},{"n":4441,"fa":4.6,"seg":6},{"n":4449,"fa":4.7,"seg":6},{"n":4457,"fa":4.65,"seg":6},{"n":4465,"fa":4.6,"seg":6},{"n":4473,"fa":4.7,"seg":6},{"n":4481,"fa":4.65,"seg":6},{"n":4489,"fa":4.7,"seg":6},{"n":4497,"fa":4.75,"seg":6},{"n":4505,"fa":4.7,"seg":6},{"n":4513,"fa":4.65,"seg":6},{"n":4521,"fa":4.75,"seg":6},{"n":4529,"fa":4.7,"seg":6},{"n":4537,"fa":4.75,"seg":6},{"n":4545,"fa":4.8,"seg":6},{"n":4553,"fa":4.75,"seg":6},{"n":4561,"fa":4.7,"seg":6},{"n":4569,"fa":4.8,"seg":6},{"n":4577,"fa":4.75,"seg":6},{"n":4585,"fa":4.85,"seg":6},{"n":4593,"fa":4.8,"seg":6},{"n":4601,"fa":4.85,"seg":6},{"n":4609,"fa":4.8,"seg":6},{"n":4617,"fa":4.85,"seg":6},{"n":4625,"fa":4.9,"seg":6},{"n":4633,"fa":4.85,"seg":6},{"n":4641,"fa":4.8,"seg":6},{"n":4649,"fa":4.85,"seg":6},{"n":4657,"fa":4.9,"seg":6},{"n":4665,"fa":4.85,"seg":6},{"n":4673,"fa":4.9,"seg":6},{"n":4681,"fa":4.85,"seg":6},{"n":4689,"fa":4.9,"seg":6},{"n":4697,"fa":4.95,"seg":6},{"n":4705,"fa":4.9,"seg":6},{"n":4713,"fa":4.97,"seg":6},{"n":4721,"fa":4.9,"seg":6},{"n":4729,"fa":4.85,"seg":6},{"n":4737,"fa":4.8,"seg":6},
      {"n":4800,"fa":4.7,"seg":7},{"n":4806,"fa":4.6,"seg":7},{"n":4812,"fa":4.75,"seg":7},{"n":4818,"fa":4.85,"seg":7},{"n":4826,"fa":4.9,"seg":7},{"n":4834,"fa":4.88,"seg":7},{"n":4842,"fa":4.9,"seg":7},{"n":4850,"fa":4.85,"seg":7},{"n":4858,"fa":4.88,"seg":7},{"n":4866,"fa":4.85,"seg":7},{"n":4874,"fa":4.82,"seg":7},{"n":4882,"fa":4.8,"seg":7},{"n":4890,"fa":4.78,"seg":7},{"n":4898,"fa":4.75,"seg":7},{"n":4906,"fa":4.73,"seg":7},{"n":4912,"fa":4.72,"seg":7}
    ],
    "ausreisser": [
      {"n":8,"fa":5.0,"seg":1},{"n":12,"fa":4.7,"seg":1},
      {"n":128,"fa":4.3,"seg":2},{"n":134,"fa":3.9,"seg":2},{"n":138,"fa":3.75,"seg":2},{"n":142,"fa":3.5,"seg":2},{"n":146,"fa":3.3,"seg":2},{"n":150,"fa":3.25,"seg":2},{"n":154,"fa":3.35,"seg":2},{"n":158,"fa":3.3,"seg":2},{"n":162,"fa":3.45,"seg":2},{"n":166,"fa":3.9,"seg":2},{"n":170,"fa":4.0,"seg":2},
      {"n":403,"fa":5.6,"seg":3},{"n":408,"fa":5.95,"seg":3},{"n":412,"fa":6.12,"seg":3},{"n":418,"fa":5.85,"seg":3},{"n":426,"fa":5.95,"seg":3},{"n":434,"fa":5.9,"seg":3},{"n":442,"fa":5.98,"seg":3},{"n":450,"fa":5.88,"seg":3},{"n":458,"fa":6.0,"seg":3},{"n":466,"fa":5.92,"seg":3},{"n":474,"fa":6.02,"seg":3},{"n":482,"fa":5.9,"seg":3},{"n":490,"fa":5.97,"seg":3},{"n":498,"fa":5.88,"seg":3},{"n":506,"fa":6.0,"seg":3},{"n":514,"fa":5.95,"seg":3},{"n":522,"fa":6.03,"seg":3},{"n":530,"fa":5.92,"seg":3},{"n":538,"fa":5.98,"seg":3},{"n":546,"fa":5.9,"seg":3},{"n":554,"fa":6.0,"seg":3},{"n":562,"fa":5.93,"seg":3},{"n":570,"fa":5.96,"seg":3},{"n":578,"fa":5.87,"seg":3},{"n":586,"fa":5.98,"seg":3},{"n":594,"fa":5.92,"seg":3},{"n":602,"fa":6.0,"seg":3},{"n":610,"fa":5.9,"seg":3},{"n":618,"fa":6.02,"seg":3},{"n":626,"fa":5.95,"seg":3},{"n":634,"fa":6.1,"seg":3},{"n":642,"fa":5.92,"seg":3},{"n":650,"fa":6.05,"seg":3},{"n":658,"fa":5.95,"seg":3},{"n":666,"fa":6.08,"seg":3},{"n":674,"fa":5.93,"seg":3},{"n":682,"fa":6.02,"seg":3},{"n":690,"fa":5.96,"seg":3},{"n":698,"fa":6.05,"seg":3},{"n":706,"fa":5.94,"seg":3},{"n":714,"fa":6.1,"seg":3},{"n":722,"fa":5.97,"seg":3},{"n":730,"fa":6.04,"seg":3},{"n":738,"fa":5.95,"seg":3},{"n":746,"fa":6.12,"seg":3},{"n":754,"fa":5.98,"seg":3},{"n":762,"fa":6.06,"seg":3},{"n":770,"fa":5.96,"seg":3},{"n":778,"fa":6.1,"seg":3},{"n":786,"fa":5.99,"seg":3},{"n":794,"fa":6.05,"seg":3},{"n":802,"fa":5.92,"seg":3},{"n":810,"fa":6.08,"seg":3},{"n":818,"fa":5.97,"seg":3},{"n":826,"fa":6.02,"seg":3},{"n":834,"fa":5.95,"seg":3},{"n":842,"fa":6.1,"seg":3},{"n":850,"fa":5.98,"seg":3},{"n":858,"fa":6.04,"seg":3},{"n":866,"fa":5.96,"seg":3},{"n":874,"fa":6.08,"seg":3},{"n":882,"fa":6.0,"seg":3},{"n":890,"fa":6.06,"seg":3},{"n":898,"fa":5.97,"seg":3},{"n":906,"fa":6.03,"seg":3},{"n":914,"fa":5.98,"seg":3},{"n":922,"fa":6.08,"seg":3},{"n":930,"fa":5.99,"seg":3},{"n":938,"fa":6.05,"seg":3},{"n":946,"fa":6.02,"seg":3},{"n":950,"fa":6.12,"seg":3},{"n":952,"fa":3.7,"seg":3},
      {"n":1325,"fa":4.5,"seg":4},{"n":1333,"fa":4.6,"seg":4},{"n":1341,"fa":4.45,"seg":4},{"n":1349,"fa":4.55,"seg":4},{"n":1355,"fa":4.05,"seg":4},{"n":1361,"fa":4.5,"seg":4},{"n":1369,"fa":4.6,"seg":4},{"n":1377,"fa":4.45,"seg":4},{"n":1385,"fa":4.55,"seg":4},{"n":1391,"fa":4.1,"seg":4},{"n":1397,"fa":4.5,"seg":4},{"n":1405,"fa":4.6,"seg":4},{"n":1413,"fa":4.5,"seg":4},{"n":1421,"fa":4.55,"seg":4},{"n":1427,"fa":4.15,"seg":4},{"n":1433,"fa":4.5,"seg":4},{"n":1441,"fa":4.6,"seg":4},{"n":1449,"fa":4.5,"seg":4},{"n":1457,"fa":4.55,"seg":4},{"n":1463,"fa":3.75,"seg":4},{"n":1469,"fa":4.5,"seg":4},{"n":1477,"fa":4.6,"seg":4},{"n":1483,"fa":4.8,"seg":4},{"n":1491,"fa":4.5,"seg":4},{"n":1499,"fa":4.55,"seg":4},{"n":1505,"fa":3.83,"seg":4},{"n":1511,"fa":4.5,"seg":4},{"n":1519,"fa":4.6,"seg":4},{"n":1527,"fa":4.45,"seg":4},{"n":1533,"fa":3.95,"seg":4},{"n":1539,"fa":4.5,"seg":4},{"n":1545,"fa":3.85,"seg":4},{"n":1551,"fa":4.55,"seg":4},{"n":1559,"fa":4.6,"seg":4},{"n":1565,"fa":4.45,"seg":4},{"n":1571,"fa":4.05,"seg":4},{"n":1577,"fa":4.6,"seg":4},{"n":1581,"fa":3.7,"seg":4},{"n":1585,"fa":4.65,"seg":4},{"n":1590,"fa":4.6,"seg":4},{"n":1595,"fa":3.9,"seg":4},{"n":1600,"fa":4.4,"seg":4},{"n":1606,"fa":3.75,"seg":4},{"n":1612,"fa":4.1,"seg":4},
      {"n":1625,"fa":4.3,"seg":5},{"n":1632,"fa":4.45,"seg":5},{"n":1640,"fa":4.4,"seg":5},{"n":1648,"fa":4.45,"seg":5},{"n":1656,"fa":4.38,"seg":5},{"n":1664,"fa":4.42,"seg":5},{"n":1672,"fa":4.35,"seg":5},{"n":1680,"fa":4.4,"seg":5},{"n":1688,"fa":4.35,"seg":5},{"n":1696,"fa":4.38,"seg":5},{"n":1704,"fa":4.35,"seg":5},{"n":1710,"fa":4.3,"seg":5},
      {"n":2207,"fa":4.6,"seg":6},{"n":2210,"fa":5.78,"seg":6},{"n":2216,"fa":5.85,"seg":6},{"n":2224,"fa":5.8,"seg":6},{"n":2232,"fa":5.82,"seg":6},{"n":2240,"fa":5.76,"seg":6},{"n":2248,"fa":5.8,"seg":6},{"n":2256,"fa":5.75,"seg":6},{"n":2264,"fa":5.78,"seg":6},{"n":2272,"fa":5.72,"seg":6},{"n":2280,"fa":5.76,"seg":6},{"n":2288,"fa":5.73,"seg":6},{"n":2296,"fa":5.76,"seg":6},{"n":2302,"fa":5.7,"seg":6},{"n":2304,"fa":4.3,"seg":6},
      {"n":2696,"fa":4.8,"seg":7},{"n":2704,"fa":4.85,"seg":7},{"n":2712,"fa":4.78,"seg":7},
      {"n":2986,"fa":5.8,"seg":8},{"n":2994,"fa":5.72,"seg":8},{"n":3002,"fa":5.78,"seg":8},{"n":3010,"fa":5.7,"seg":8},
      {"n":3993,"fa":5.83,"seg":9},{"n":3998,"fa":5.85,"seg":9},{"n":4002,"fa":5.9,"seg":9},{"n":4005,"fa":6.45,"seg":9},{"n":4012,"fa":6.5,"seg":9},{"n":4020,"fa":6.45,"seg":9},{"n":4028,"fa":6.55,"seg":9},{"n":4036,"fa":6.5,"seg":9},{"n":4044,"fa":6.58,"seg":9},{"n":4052,"fa":6.5,"seg":9},{"n":4060,"fa":6.55,"seg":9},{"n":4068,"fa":6.6,"seg":9},{"n":4076,"fa":6.5,"seg":9},{"n":4084,"fa":6.55,"seg":9},{"n":4090,"fa":6.5,"seg":9},
      {"n":4737,"fa":4.8,"seg":10},{"n":4745,"fa":4.78,"seg":10},{"n":4753,"fa":4.75,"seg":10},{"n":4761,"fa":4.8,"seg":10},{"n":4769,"fa":4.73,"seg":10},{"n":4777,"fa":4.75,"seg":10},{"n":4785,"fa":4.72,"seg":10},{"n":4793,"fa":4.7,"seg":10},{"n":4800,"fa":4.7,"seg":10}
    ]
  },
  "layer": [
    {
      "data": {"name": "gemessen"},
      "mark": {"type": "line", "strokeWidth": 1.1, "clip": true},
      "encoding": {
        "x": {"field": "n", "type": "quantitative", "scale": {"domain": [4, 4914], "nice": false, "zero": false},
              "axis": {"orient": "bottom", "values": [500, 1000, 1500, 2000, 2500, 3000, 3500, 4000, 4500], "format": "d", "labelPadding": 14, "title": "Datensatz", "titlePadding": 6, "titleX": 432}},
        "y": {"field": "fa", "type": "quantitative", "scale": {"domain": [2, 12], "nice": false, "zero": false},
              "axis": {"orient": "left", "values": [2, 3, 4, 5, 6, 7, 8, 9, 10, 11, 12], "format": "d", "labelPadding": 17, "title": "Fa", "titlePadding": 10, "titleY": 288}},
        "detail": {"field": "seg"},
        "color": {"datum": "Gemessen", "type": "nominal",
                  "scale": {"domain": ["Gemessen", "Prognose", "Ausreißer"], "range": ["#2f4ea5", "#167a3c", "#8ec79b"]},
                  "legend": {"title": null}}
      }
    },
    {
      "data": {"name": "prognose"},
      "mark": {"type": "line", "strokeWidth": 1.1, "clip": true},
      "encoding": {
        "x": {"field": "n", "type": "quantitative", "axis": null},
        "y": {"field": "fa", "type": "quantitative", "axis": null},
        "detail": {"field": "seg"},
        "color": {"datum": "Prognose", "type": "nominal"}
      }
    },
    {
      "data": {"name": "ausreisser"},
      "mark": {"type": "line", "strokeWidth": 1.1, "clip": true},
      "encoding": {
        "x": {"field": "n", "type": "quantitative",
              "axis": {"orient": "top", "values": [500, 1000, 1500, 2000, 2500, 3000, 3500, 4000, 4500], "labels": false, "title": null}},
        "y": {"field": "fa", "type": "quantitative",
              "axis": {"orient": "right", "values": [2, 3, 4, 5, 6, 7, 8, 9, 10, 11, 12], "labels": false, "title": null}},
        "detail": {"field": "seg"},
        "color": {"datum": "Ausreißer", "type": "nominal"}
      }
    }
  ],
  "resolve": {"axis": {"x": "independent", "y": "independent"}},
  "config": {
    "font": "Liberation Sans",
    "view": {"stroke": "black", "strokeWidth": 1},
    "axis": {
      "domain": false, "grid": false, "ticks": true, "tickSize": -9, "tickColor": "black", "tickWidth": 1,
      "labelFont": "Liberation Sans", "labelFontSize": 16, "labelColor": "black",
      "titleFont": "Liberation Sans", "titleFontSize": 24, "titleFontWeight": "normal", "titleColor": "black"
    },
    "legend": {
      "orient": "none", "legendX": 119, "legendY": 93,
      "symbolType": "stroke", "symbolSize": 1600, "symbolStrokeWidth": 1.5, "symbolOffset": 14,
      "labelFont": "Liberation Sans", "labelFontSize": 24, "labelColor": "black", "labelOffset": 10,
      "strokeColor": "black", "fillColor": "white", "padding": 11, "rowPadding": 6, "clipHeight": 24, "cornerRadius": 0
    }
  }
}
